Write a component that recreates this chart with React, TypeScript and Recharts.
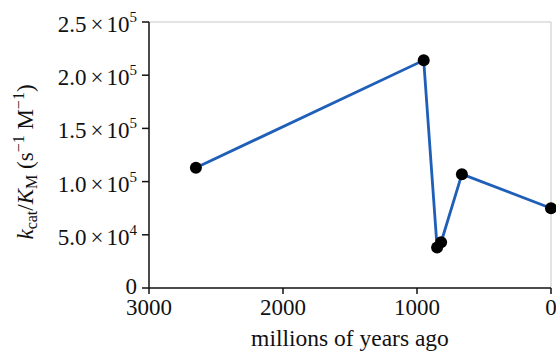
import { CartesianGrid, Line, LineChart, ReferenceLine, XAxis, YAxis } from "recharts";

const ages = [2650, 950, 850, 820, 665, 0];
const kcatKm = [113000, 214000, 38000, 43000, 107000, 75000];
const xTicks = [3000, 2000, 1000, 0];
const yTicks = [0, 50000, 100000, 150000, 200000, 250000];

const data = ages.map((age, i) => ({ age, value: kcatKm[i] }));

const FONT = "'Liberation Serif', 'Times New Roman', 'DejaVu Serif', serif";
const txt = { fontFamily: FONT, fontSize: 23 };

function YTick({ x, y, payload }: any) {
  const v = payload.value as number;
  if (v === 0) {
    return (
      <text x={x} y={y} dy={6} textAnchor="end" style={txt} fill="#111">
        0
      </text>
    );
  }
  const exp = Math.floor(Math.log10(v));
  const mant = (v / Math.pow(10, exp)).toFixed(1);
  return (
    <text x={x} y={y} dy={10} textAnchor="end" style={txt} fill="#111">
      <tspan>{mant}</tspan>
      <tspan dx={4}>×</tspan>
      <tspan dx={3}>10</tspan>
      <tspan dy={-10} style={{ fontSize: 15 }}>{exp}</tspan>
    </text>
  );
}

function XTick({ x, y, payload }: any) {
  return (
    <text x={x} y={y} dy={19} textAnchor="middle" style={txt} fill="#111">
      {payload.value}
    </text>
  );
}

function XLabel({ viewBox }: any) {
  const cx = viewBox.x + viewBox.width / 2;
  return (
    <text x={cx} y={346} textAnchor="middle" style={{ fontFamily: FONT, fontSize: 23.5 }} fill="#111">
      millions of years ago
    </text>
  );
}

function YLabel({ viewBox }: any) {
  const cx = 33;
  const cy = viewBox.y + viewBox.height / 2 + 7;
  const sub = { fontSize: 16 };
  return (
    <text
      x={cx}
      y={cy}
      transform={`rotate(-90 ${cx} ${cy})`}
      textAnchor="middle"
      style={{ fontFamily: FONT, fontSize: 23 }}
      fill="#111"
    >
      <tspan fontStyle="italic">k</tspan>
      <tspan style={sub} dy={4}>cat</tspan>
      <tspan dy={-4}>/</tspan>
      <tspan fontStyle="italic">K</tspan>
      <tspan style={sub} dy={4}>M</tspan>
      <tspan dy={-4}> (s</tspan>
      <tspan style={sub} dy={-9}>−1</tspan>
      <tspan dy={9}> M</tspan>
      <tspan style={sub} dy={-9}>−1</tspan>
      <tspan dy={9}>)</tspan>
    </text>
  );
}

export default function App() {
  return (
    <div style={{ position: "absolute", left: 0, top: 0, width: 556, height: 354, background: "#fff" }}>
      <LineChart width={556} height={354} data={data} margin={{ top: 22, right: 5, bottom: 0, left: 0 }}>
        <CartesianGrid stroke="none" />
        <XAxis
          dataKey="age"
          type="number"
          domain={[0, 3000]}
          ticks={xTicks}
          reversed
          height={66}
          stroke="#111"
          strokeWidth={1.5}
          tickSize={6}
          tickMargin={2}
          tick={<XTick />}
          label={<XLabel />}
        />
        <YAxis
          type="number"
          domain={[0, 250000]}
          ticks={yTicks}
          width={149}
          stroke="#111"
          strokeWidth={1.5}
          tickSize={7}
          tickMargin={5}
          tick={<YTick />}
          label={<YLabel />}
        />
        <ReferenceLine y={250000} stroke="#c8c8c8" strokeWidth={1} />
        <ReferenceLine x={0} stroke="#c8c8c8" strokeWidth={1} />
        <Line
          dataKey="value"
          stroke="#1f5fb8"
          strokeWidth={2.8}
          isAnimationActive={false}
          dot={{ r: 6, fill: "#000", stroke: "#000", strokeWidth: 0 }}
          activeDot={false}
        />
      </LineChart>
    </div>
  );
}
